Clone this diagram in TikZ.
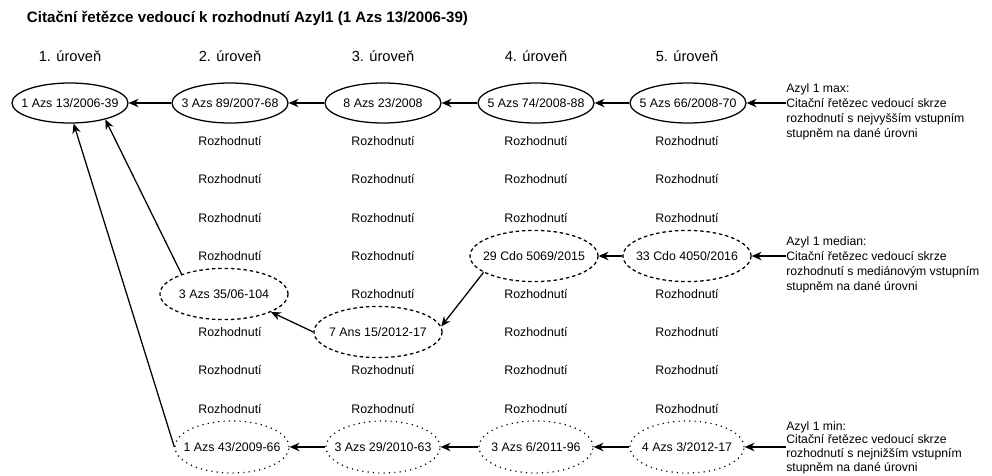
\documentclass[tikz,border=0pt]{standalone}
\usepackage{fontspec}
\setmainfont{Liberation Sans}
\usetikzlibrary{positioning,arrows.meta,shapes.geometric}

\newcommand{\cnum}[1]{\makebox[0pt]{#1}}

\begin{document}
\begin{tikzpicture}[>={Stealth[length=7pt,width=6pt]}, x=0.025cm, y=-0.025cm,
    every node/.style={font=\fontsize{8.8}{10}\selectfont},
    case/.style={ellipse, draw, line width=0.9pt, inner sep=0pt},
    maxcase/.style={case, minimum width=2.9cm, minimum height=1cm},
    medcase/.style={case, dash pattern=on 2.5pt off 2pt, minimum width=3.2cm, minimum height=1.28cm},
    mincase/.style={case, dash pattern=on 0.8pt off 3pt, minimum width=2.85cm, minimum height=1.3cm},
    level/.style={font=\fontsize{10.4}{12}\selectfont},
    note/.style={align=left, inner sep=0pt, anchor=base west, font=\fontsize{8.7}{10.5}\selectfont},
    link/.style={->, line width=0.9pt}]
    \useasboundingbox (0,0) rectangle (992,475);

    % title and levels
    \node[anchor=west, font=\bfseries\fontsize{10.75}{12}\selectfont] (title) at (22,18)
        {Citační řetězce vedoucí k rozhodnutí Azyl1 (1 Azs 13/2006-39)};
    \node[level] (lev1) at (70,56) {1. úroveň};
    \node[level] (lev2) at (230,56) {2. úroveň};
    \node[level] (lev3) at (383,56) {3. úroveň};
    \node[level] (lev4) at (536,56) {4. úroveň};
    \node[level] (lev5) at (687,56) {5. úroveň};

    % other decisions
    \foreach \k in {1,2,3,4,6,7,8} \node (r2-\k) at (230,{103+38.2*\k}) {Rozhodnutí};
    \foreach \k in {1,2,3,4,5,7,8} \node (r3-\k) at (383,{103+38.2*\k}) {Rozhodnutí};
    \foreach \k in {1,2,3,5,6,7,8} \node (r4-\k) at (536,{103+38.2*\k}) {Rozhodnutí};
    \foreach \k in {1,2,3,5,6,7,8} \node (r5-\k) at (687,{103+38.2*\k}) {Rozhodnutí};

    % max chain
    \node[maxcase] (max1) at (70,103) {\cnum{1 Azs 13/2006-39}};
    \node[maxcase] (max2) at (230,103) {\cnum{3 Azs 89/2007-68}};
    \node[maxcase] (max3) at (383,103) {\cnum{8 Azs 23/2008}};
    \node[maxcase] (max4) at (536,103) {\cnum{5 Azs 74/2008-88}};
    \node[maxcase] (max5) at (688,103) {\cnum{5 Azs 66/2008-70}};
    \node[note] (maxnote) at (786,137) {Azyl 1 max:\\Citační řetězec vedoucí skrze\\rozhodnutí s nejvyšším vstupním\\stupněm na dané úrovni};

    \draw[link] (maxnote.west |- max5) -- (max5);
    \draw[link] (max5) -- (max4);
    \draw[link] (max4) -- (max3);
    \draw[link] (max3) -- (max2);
    \draw[link] (max2) -- (max1);

    % median chain
    \node[medcase] (med2) at (224,294) {\cnum{3 Azs 35/06-104}};
    \node[medcase] (med3) at (378,332) {\cnum{7 Ans 15/2012-17}};
    \node[medcase] (med4) at (534,256) {\cnum{29 Cdo 5069/2015}};
    \node[medcase] (med5) at (687,256) {\cnum{33 Cdo 4050/2016}};
    \node[note] (mednote) at (786,290) {Azyl 1 median:\\Citační řetězec vedoucí skrze\\rozhodnutí s mediánovým vstupním\\stupněm na dané úrovni};

    \draw[link] (mednote.west |- med5) -- (med5);
    \draw[link] (med5) -- (med4);
    \draw[link] (med4.198) -- (med3.5);
    \draw[link] (med3.west) -- (med2.339);
    \draw[link] (med2.155) -- (max1.335);

    % min chain
    \node[mincase] (min2) at (232,447) {\cnum{1 Azs 43/2009-66}};
    \node[mincase] (min3) at (383,447) {\cnum{3 Azs 29/2010-63}};
    \node[mincase] (min4) at (536,447) {\cnum{3 Azs 6/2011-96}};
    \node[mincase] (min5) at (687,447) {\cnum{4 Azs 3/2012-17}};
    \node[note, font=\fontsize{8.7}{9.8}\selectfont] (minnote) at (786,471.5) {Azyl 1 min:\\Citační řetězec vedoucí skrze\\rozhodnutí s nejnižším vstupním\\stupněm na dané úrovni};

    \draw[link] (minnote.west |- min5) -- (min5);
    \draw[link] (min5) -- (min4);
    \draw[link] (min4) -- (min3);
    \draw[link] (min3) -- (min2);
    \draw[link] (min2.west) -- (max1.280);
\end{tikzpicture}
\end{document}
